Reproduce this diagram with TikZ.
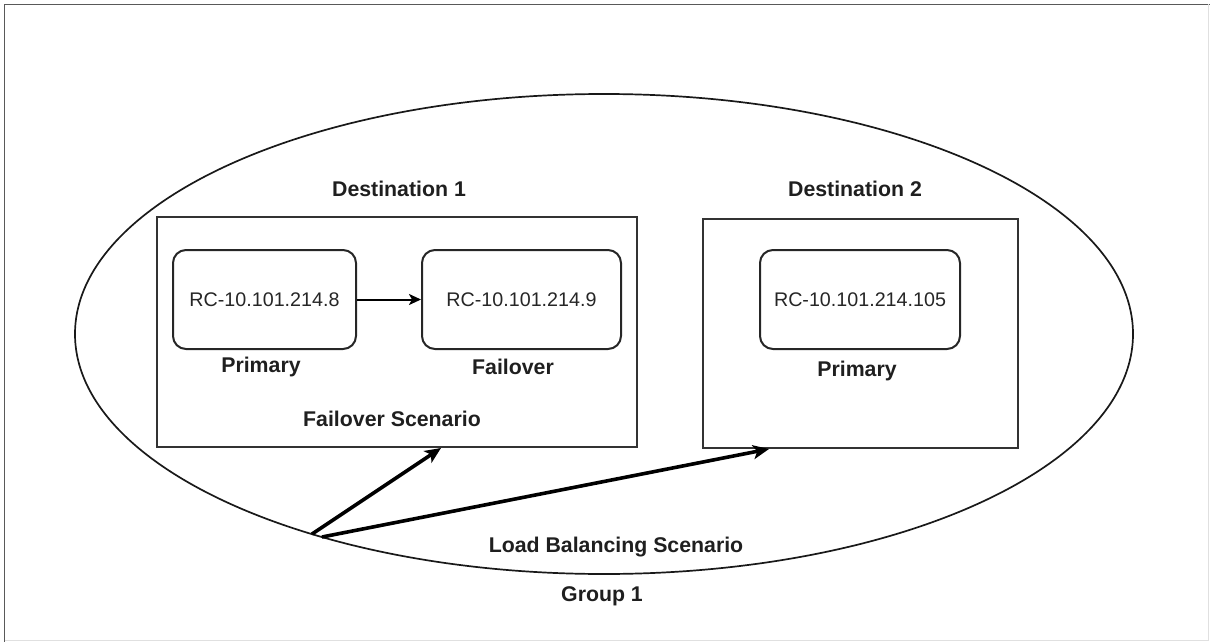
\documentclass[tikz,border=0pt]{standalone}
\usepackage{fontspec}
\setmainfont{Liberation Sans}
\usetikzlibrary{arrows.meta,shapes.geometric}
\begin{document}
\begin{tikzpicture}[x=1pt,y=-1pt,
  frameline/.style={draw=black!65, line width=1.8pt},
  group/.style={draw=black!90, line width=1.7pt, ellipse, inner sep=0pt},
  destbox/.style={draw=black!80, line width=2pt, rectangle, inner sep=0pt},
  rcbox/.style={draw=black!85, line width=2pt, rectangle, rounded corners=13pt, inner sep=0pt, minimum height=99pt,
     font=\fontsize{19.7}{23}\selectfont, text=black!85},
  lbl/.style={font=\fontsize{21.3}{25}\selectfont\bfseries, text=black!88, inner sep=0pt},
  bigarrow/.style={line width=3.6pt, -{Stealth[length=16pt,width=14pt,inset=4pt]}},
  smallarrow/.style={line width=2pt, -{Stealth[length=12pt,width=11pt,inset=3pt]}}
]
\useasboundingbox (0,0) rectangle (1210,642);
% page frame
\draw[frameline] (4.5,642) -- (4.5,4.5) -- (1210,4.5);
\draw[draw=black!12, line width=1pt] (1208,4.5) -- (1208,640) -- (4.5,640);

% group ellipse
\node[group, minimum width=1058pt, minimum height=480pt] (grp) at (604,334) {};

% destination boxes
\node[destbox, minimum width=480pt, minimum height=230pt] (d1) at (397,332) {};
\node[destbox, minimum width=315pt, minimum height=229pt] (d2) at (860.5,333.5) {};

% rc boxes
\node[rcbox, minimum width=183pt] (rc1) at (264.5,299.5) {RC-10.101.214.8};
\node[rcbox, minimum width=199pt] (rc2) at (521.5,299.5) {RC-10.101.214.9};
\node[rcbox, minimum width=200pt] (rc3) at (860,299.5) {RC-10.101.214.105};

% labels
\node[lbl] (t1) at (399,189) {Destination 1};
\node[lbl] (t2) at (855,189) {Destination 2};
\node[lbl] (p1) at (261,367) {Primary};
\node[lbl] (f1) at (513,367) {Failover};
\node[lbl] (fs) at (392,419) {Failover Scenario};
\node[lbl] (p2) at (857,371) {Primary};
\node[lbl] (lb) at (616,547) {Load Balancing Scenario};
\node[lbl] (g1) at (602,596) {Group 1};

% connectors
\draw[smallarrow] (rc1.east) -- (rc2.west);
\coordinate (o1) at (312,534);
\coordinate (o2) at (322,537);
\draw[bigarrow] (o1) -- ([xshift=285pt]d1.south west);
\draw[bigarrow] (o2) -- ([xshift=67pt]d2.south west);
\end{tikzpicture}
\end{document}
